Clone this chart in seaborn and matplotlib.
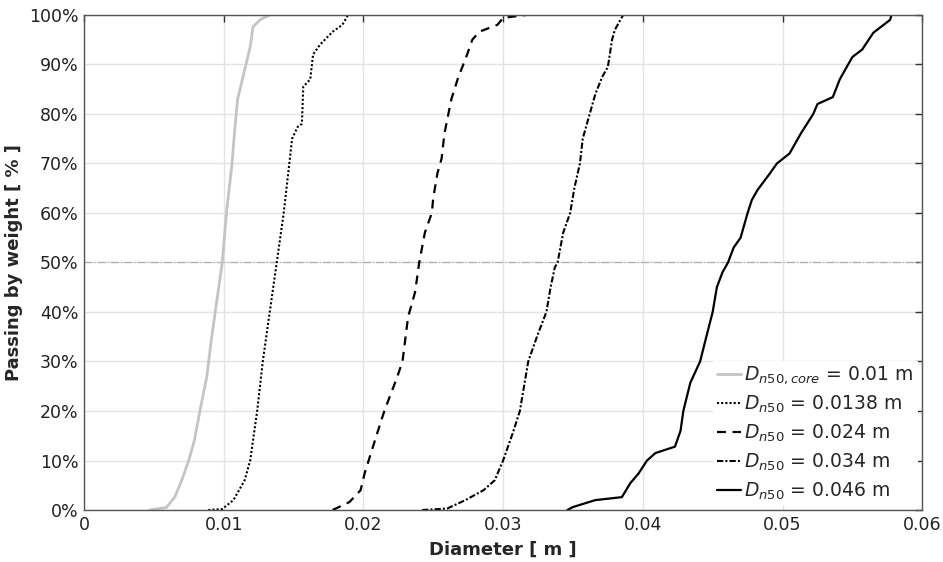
import matplotlib
matplotlib.use("Agg")
import matplotlib.pyplot as plt
import seaborn as sns
import pandas as pd
from matplotlib.ticker import FuncFormatter

# ---- data ----
core_d = [0.0047, 0.0059, 0.0065, 0.0070, 0.0075, 0.0079, 0.0083, 0.0088, 0.0091, 0.0094,
          0.0099, 0.0102, 0.0106, 0.0108, 0.0110, 0.0116, 0.0119, 0.0121, 0.0126, 0.0133]
core_p = [0, 0.5, 2.6, 6, 10, 14, 20, 27, 34, 40, 50, 60, 70, 77, 83, 90, 93.5, 97.6, 99, 100]

d138_d = [0.0089, 0.0099, 0.0107, 0.0115, 0.0119, 0.0121, 0.0124, 0.0128, 0.0133, 0.0138,
          0.0143, 0.0145, 0.0147, 0.0149, 0.0153, 0.0156, 0.0157, 0.0162, 0.0164, 0.0169,
          0.0178, 0.0185, 0.0189]
d138_p = [0, 0.2, 2, 6, 10, 14, 20, 30, 40, 50, 60, 65, 70, 75, 77.4, 78, 85.5, 87, 92, 94,
          96.6, 98, 100]

d24_d = [0.0178, 0.0190, 0.0198, 0.0201, 0.0210, 0.0215, 0.0224, 0.0228, 0.0232, 0.0237,
         0.0240, 0.0244, 0.0249, 0.0250, 0.0253, 0.0256, 0.0258, 0.0263, 0.0268, 0.0273,
         0.0278, 0.0283, 0.0296, 0.0300, 0.0317]
d24_p = [0, 1.6, 4, 7.5, 15.6, 20, 26.7, 30, 39, 44, 50, 56, 60, 63, 68, 71, 76, 83, 87.5,
         91, 95, 96.6, 98, 99.4, 100]

d34_d = [0.0242, 0.0260, 0.0273, 0.0286, 0.0294, 0.0300, 0.0307, 0.0312, 0.0318, 0.0325,
         0.0331, 0.0334, 0.0337, 0.0339, 0.0343, 0.0348, 0.0351, 0.0355, 0.0357, 0.0362,
         0.0366, 0.0371, 0.0375, 0.0378, 0.0380, 0.0386]
d34_p = [0, 0.3, 2, 4, 6, 10, 15.6, 20, 30, 35.6, 40, 45, 49, 50, 56, 60, 65, 70, 75, 80,
         84, 87.5, 89.5, 95, 97, 100]

d46_d = [0.0346, 0.0350, 0.0366, 0.0385, 0.0391, 0.0397, 0.0403, 0.0409, 0.0423, 0.0427,
         0.0429, 0.0434, 0.0441, 0.0446, 0.0450, 0.0453, 0.0457, 0.0461, 0.0465, 0.0470,
         0.0475, 0.0478, 0.0482, 0.0491, 0.0496, 0.0505, 0.0513, 0.0522, 0.0525, 0.0536,
         0.0541, 0.0550, 0.0557, 0.0565, 0.0577, 0.0578]
d46_p = [0, 0.6, 2, 2.6, 5.4, 7.4, 10, 11.5, 12.8, 16, 20, 25.7, 30, 35.6, 40, 45, 48, 50,
         53, 55, 60, 62.6, 64.6, 68, 70, 72, 76, 80, 82, 83.4, 87, 91.5, 93, 96.4, 99, 100]

labels = [r"$D_{n50,core}$ = 0.01 m", r"$D_{n50}$ = 0.0138 m", r"$D_{n50}$ = 0.024 m",
          r"$D_{n50}$ = 0.034 m", r"$D_{n50}$ = 0.046 m"]
x_ticks = [0, 0.01, 0.02, 0.03, 0.04, 0.05, 0.06]
y_ticks = [0, 10, 20, 30, 40, 50, 60, 70, 80, 90, 100]

series = [(core_d, core_p), (d138_d, d138_p), (d24_d, d24_p), (d34_d, d34_p), (d46_d, d46_p)]
styles = [dict(color="#c4c4c4", linestyle="-", linewidth=2.0),
          dict(color="black", linestyle=(0, (1, 1)), linewidth=1.5),
          dict(color="black", linestyle=(0, (4, 3)), linewidth=1.6),
          dict(color="black", linestyle=(0, (3, 1, 1, 1)), linewidth=1.5),
          dict(color="black", linestyle="-", linewidth=1.6)]

sns.set_theme(style="white")
plt.rcParams['font.family'] = ['DejaVu Sans']
plt.rcParams['mathtext.fontset'] = 'dejavusans'

fig = plt.figure(figsize=(9.43, 5.62), dpi=100)
ax = fig.add_axes([0.089, 0.0925, 0.889, 0.881])

for (d, p), lab, st in zip(series, labels, styles):
    df = pd.DataFrame({"d": d, "p": p})
    sns.lineplot(data=df, x="d", y="p", ax=ax, sort=False, estimator=None,
                 label=lab, **st)

ax.axhline(50, color="#b0b0b0", linestyle="-.", linewidth=0.9, zorder=1)

ax.set_xlim(0, 0.06)
ax.set_ylim(0, 100)
ax.set_xticks(x_ticks)
ax.set_yticks(y_ticks)
ax.xaxis.set_major_formatter(FuncFormatter(lambda v, _: f"{v:g}"))
ax.yaxis.set_major_formatter(FuncFormatter(lambda v, _: f"{v:.0f}%"))
ax.grid(True, color="#e3e3e3", linewidth=1.0)
ax.set_axisbelow(True)
for s in ax.spines.values():
    s.set_color("#555555")
    s.set_linewidth(1.0)
ax.tick_params(direction="in", length=5, width=1, color="#333333", top=True, right=True,
               labelsize=12.5, labelcolor="#222222", pad=4)

ax.set_xlabel("Diameter [ m ]", fontsize=13, fontweight="bold", labelpad=5)
ax.set_ylabel("Passing by weight [ % ]", fontsize=13, fontweight="bold", labelpad=4)

leg = ax.legend(loc="lower right", fontsize=13.5, frameon=True, handlelength=1.3,
                handletextpad=0.15, labelspacing=0.4, borderaxespad=0.25,
                borderpad=0.2, fancybox=False)
leg.get_frame().set_edgecolor("none")
leg.get_frame().set_facecolor("white")
leg.get_frame().set_alpha(1.0)

fig.savefig("out.png", dpi=100, facecolor="white")
